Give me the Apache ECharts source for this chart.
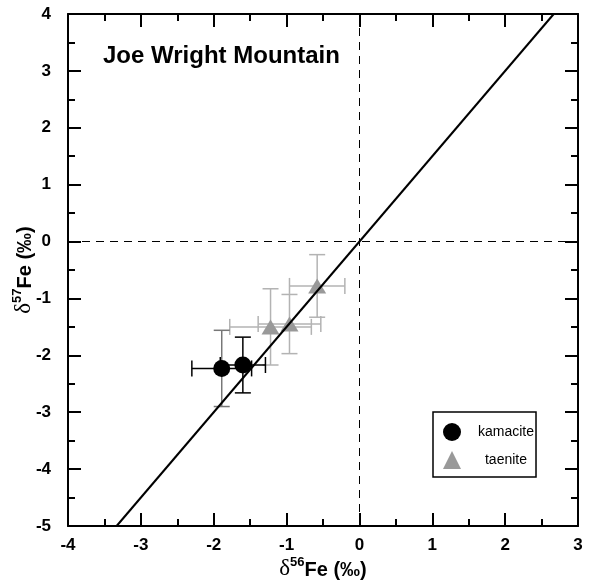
<!DOCTYPE html>
<html>
<head>
<meta charset="utf-8">
<title>Joe Wright Mountain</title>
<script src="https://cdn.jsdelivr.net/npm/echarts@6/dist/echarts.min.js"></script>
<style>
  html, body { margin: 0; padding: 0; background: #fff; }
  #chart { width: 593px; height: 588px; }
</style>
</head>
<body>
<div id="chart"></div>
<script>
// Iron isotope compositions (per mil) with 2-sigma uncertainties
const kamaciteD56 = [-1.89, -1.60];
const kamaciteD57 = [-2.23, -2.17];
const kamaciteErr56 = [0.41, 0.31];
const kamaciteErr57 = [0.67, 0.49];

const taeniteD56 = [-1.22, -0.96, -0.58];
const taeniteD57 = [-1.50, -1.45, -0.78];
const taeniteErr56 = [0.56, 0.43, 0.38];
const taeniteErr57 = [0.67, 0.52, 0.55];

// Mass-dependent fractionation line (slope 1.5 through the origin)
const refLineD56 = [-3.333, 2.667];
const refLineD57 = [-5, 4];

// Axis ranges and ticks
const xTicks = [-4, -3, -2, -1, 0, 1, 2, 3];
const yTicks = [-5, -4, -3, -2, -1, 0, 1, 2, 3, 4];

const FONT = 'Liberation Sans, Arial, sans-serif';
const chart = echarts.init(document.getElementById('chart'), null, { renderer: 'canvas' });

function toPoints(xs, ys) {
  return xs.map((x, i) => [x, ys[i]]);
}

// Cross-shaped error bars with end caps
function errorBarSeries(name, xs, ys, ex, ey, hColor, vColors) {
  return {
    type: 'custom',
    name: name + ' error',
    z: 1,
    silent: true,
    data: xs.map((x, i) => [x, ys[i], ex[i], ey[i]]),
    encode: { x: 0, y: 1 },
    renderItem: function (params, api) {
      const x = api.value(0), y = api.value(1);
      const dx = api.value(2), dy = api.value(3);
      const l = api.coord([x - dx, y]);
      const r = api.coord([x + dx, y]);
      const t = api.coord([x, y + dy]);
      const b = api.coord([x, y - dy]);
      const cap = 8;
      const hs = { stroke: hColor, lineWidth: 1.5 };
      const vs = { stroke: vColors[params.dataIndex % vColors.length], lineWidth: 1.5 };
      return {
        type: 'group',
        children: [
          { type: 'line', shape: { x1: l[0], y1: l[1], x2: r[0], y2: r[1] }, style: hs },
          { type: 'line', shape: { x1: l[0], y1: l[1] - cap, x2: l[0], y2: l[1] + cap }, style: hs },
          { type: 'line', shape: { x1: r[0], y1: r[1] - cap, x2: r[0], y2: r[1] + cap }, style: hs },
          { type: 'line', shape: { x1: t[0], y1: t[1], x2: b[0], y2: b[1] }, style: vs },
          { type: 'line', shape: { x1: t[0] - cap, y1: t[1], x2: t[0] + cap, y2: t[1] }, style: vs },
          { type: 'line', shape: { x1: b[0] - cap, y1: b[1], x2: b[0] + cap, y2: b[1] }, style: vs }
        ]
      };
    }
  };
}

const axisLineStyle = { color: '#000', width: 2 };

function xAxisDef(position, showLabels) {
  return {
    type: 'value',
    position: position,
    min: xTicks[0],
    max: xTicks[xTicks.length - 1],
    interval: 1,
    axisLine: { show: true, onZero: false, lineStyle: axisLineStyle },
    axisTick: { show: true, inside: true, length: 13, lineStyle: { color: '#000', width: 2 } },
    minorTick: { show: true, splitNumber: 2, length: 7, lineStyle: { color: '#000', width: 2 } },
    splitLine: { show: false },
    minorSplitLine: { show: false },
    axisLabel: {
      show: showLabels, margin: 11, color: '#000',
      fontFamily: FONT, fontWeight: 'bold', fontSize: 17
    }
  };
}

function yAxisDef(position, showLabels) {
  return {
    type: 'value',
    position: position,
    min: yTicks[0],
    max: yTicks[yTicks.length - 1],
    interval: 1,
    axisLine: { show: true, onZero: false, lineStyle: axisLineStyle },
    axisTick: { show: true, inside: true, length: 13, lineStyle: { color: '#000', width: 2 } },
    minorTick: { show: true, splitNumber: 2, length: 7, lineStyle: { color: '#000', width: 2 } },
    splitLine: { show: false },
    minorSplitLine: { show: false },
    axisLabel: {
      show: showLabels, margin: 17, color: '#000',
      fontFamily: FONT, fontWeight: 'bold', fontSize: 17
    }
  };
}

const nameRich = {
  d: { fontFamily: 'Liberation Serif, DejaVu Serif, serif', fontSize: 23, fontWeight: 'normal', color: '#000', verticalAlign: 'bottom', lineHeight: 24 },
  s: { fontFamily: FONT, fontSize: 13, fontWeight: 'bold', color: '#000', verticalAlign: 'top', lineHeight: 24 },
  b: { fontFamily: FONT, fontSize: 20, fontWeight: 'bold', color: '#000', verticalAlign: 'bottom', lineHeight: 24 }
};

const xMain = xAxisDef('bottom', true);
xMain.name = '{d|δ}{s|56}{b|Fe (‰)}';
xMain.nameLocation = 'middle';
xMain.nameGap = 30;
xMain.nameMoveOverlap = false;
xMain.nameTextStyle = { rich: nameRich };

const yMain = yAxisDef('left', true);
yMain.name = '{d|δ}{s|57}{b|Fe (‰)}';
yMain.nameLocation = 'middle';
yMain.nameGap = 33;
yMain.nameMoveOverlap = false;
yMain.nameTextStyle = { rich: nameRich };

const option = {
  animation: false,
  backgroundColor: '#fff',
  textStyle: { fontFamily: FONT },
  title: {
    text: 'Joe Wright Mountain',
    left: 103,
    top: 44,
    padding: 0,
    textStyle: { fontFamily: FONT, fontWeight: 'bold', fontSize: 24, color: '#000' }
  },
  grid: { left: 68, right: 15, top: 14, bottom: 62, containLabel: false, outerBoundsMode: 'none' },
  xAxis: [xMain, xAxisDef('top', false)],
  yAxis: [yMain, yAxisDef('right', false)],
  legend: {
    orient: 'vertical',
    left: 433,
    top: 412,
    padding: [11, 2, 8, 10],
    itemGap: 10,
    itemWidth: 18,
    itemHeight: 18,
    borderColor: '#000',
    borderWidth: 1.5,
    backgroundColor: '#fff',
    data: ['kamacite', 'taenite'],
    formatter: function (name) { return '{n|' + name + '}'; },
    textStyle: {
      rich: { n: { width: 80, align: 'center', fontFamily: FONT, fontSize: 14, color: '#000' } }
    }
  },
  series: [
    errorBarSeries('taenite', taeniteD56, taeniteD57, taeniteErr56, taeniteErr57, '#b3b3b3', ['#b3b3b3']),
    errorBarSeries('kamacite', kamaciteD56, kamaciteD57, kamaciteErr56, kamaciteErr57, '#000', ['#777', '#000']),
    {
      type: 'scatter',
      name: 'taenite',
      z: 2,
      symbol: 'triangle',
      symbolSize: [18, 15],
      itemStyle: { color: '#999', opacity: 1 },
      data: toPoints(taeniteD56, taeniteD57)
    },
    {
      type: 'scatter',
      name: 'kamacite',
      z: 2,
      symbol: 'circle',
      symbolSize: 17,
      itemStyle: { color: '#000', opacity: 1 },
      data: toPoints(kamaciteD56, kamaciteD57)
    },
    {
      type: 'line',
      name: 'fractionation line',
      z: 3,
      symbol: 'none',
      silent: true,
      lineStyle: { color: '#000', width: 2 },
      data: toPoints(refLineD56, refLineD57),
      markLine: {
        silent: true,
        symbol: ['none', 'none'],
        label: { show: false },
        lineStyle: { color: '#000', width: 1, type: [8, 6] },
        data: [{ xAxis: 0 }, { yAxis: 0 }]
      }
    }
  ]
};

chart.setOption(option);
</script>
</body>
</html>
